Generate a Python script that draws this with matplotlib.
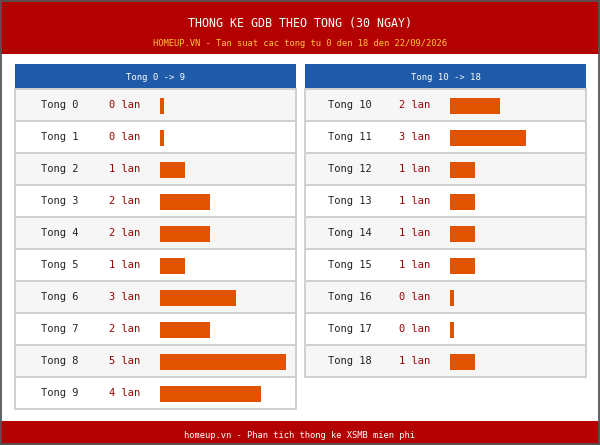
import numpy as np
import matplotlib.pyplot as plt
from matplotlib.patches import Rectangle

# data
left_tong = [0, 1, 2, 3, 4, 5, 6, 7, 8, 9]
left_lan = [0, 0, 1, 2, 2, 1, 3, 2, 5, 4]
right_tong = [10, 11, 12, 13, 14, 15, 16, 17, 18]
right_lan = [2, 3, 1, 1, 1, 1, 0, 0, 1]

title = 'THONG KE GDB THEO TONG (30 NGAY)'
subtitle = 'HOMEUP.VN - Tan suat cac tong tu 0 den 18 den 22/09/2026'
footer = 'homeup.vn - Phan tich thong ke XSMB mien phi'
panel_titles = ['Tong 0 -> 9', 'Tong 10 -> 18']

RED = '#b30000'
BLUE = '#1f5ba8'
ORANGE = '#e05300'
DARKRED = '#9b0000'
GRID = '#d0d0d0'
MONO = 'DejaVu Sans Mono'

W, H = 600, 445
fig = plt.figure(figsize=(W / 100, H / 100), dpi=100)
ax = fig.add_axes([0, 0, 1, 1])
ax.set_xlim(0, W)
ax.set_ylim(H, 0)
ax.axis('off')

# header / footer bands
ax.add_patch(Rectangle((0, 0), W, 54, color=RED, lw=0))
ax.add_patch(Rectangle((0, 421), W, 24, color=RED, lw=0))
ax.add_patch(Rectangle((0.8, 0.8), W - 1.6, H - 1.6, fill=False, ec='#555555', lw=1.3))
ax.text(300, 24, title, color='white', fontsize=8.4, family=MONO, ha='center', va='center')
ax.text(300, 43.5, subtitle, color='#ffc83a', fontsize=6.3, family=MONO, ha='center', va='center')
ax.text(300, 436, footer, color='white', fontsize=6.3, family=MONO, ha='center', va='center')

scale = 25.2  # px per "lan"
row_h = 32

def draw_panel(x0, tongs, lans, head):
    pw = 281
    ax.add_patch(Rectangle((x0, 64), pw, 25, color=BLUE, lw=0))
    ax.text(x0 + pw / 2, 77, head, color='white', fontsize=6.4, family=MONO,
            ha='center', va='center')
    y0 = 89
    n = len(tongs)
    for i in range(n):
        top = y0 + i * row_h
        fc = '#f6f6f6' if i % 2 == 0 else 'white'
        ax.add_patch(Rectangle((x0, top), pw, row_h, fc=fc, ec=GRID, lw=1.4))
        yc = top + row_h / 2 + 0.5
        ax.text(x0 + 45, yc, 'Tong %d' % tongs[i], color='#222222', fontsize=7.5,
                family=MONO, ha='center', va='center')
        ax.text(x0 + 109.5, yc, '%d lan' % lans[i], color=DARKRED, fontsize=7.5,
                family=MONO, ha='center', va='center')
    widths = [max(v * scale, 4) for v in lans]
    centers = [y0 + i * row_h + row_h / 2 + 0.5 for i in range(n)]
    ax.barh(centers, widths, height=16, left=x0 + 145, color=ORANGE)

draw_panel(15, left_tong, left_lan, panel_titles[0])
draw_panel(305, right_tong, right_lan, panel_titles[1])

fig.savefig('out.png', dpi=100)
